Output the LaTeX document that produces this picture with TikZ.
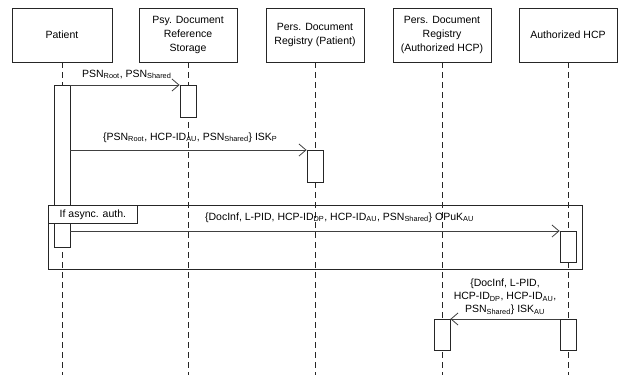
\documentclass[tikz,border=0pt]{standalone}
\usepackage{fontspec}
\setmainfont{Liberation Sans}
\usetikzlibrary{arrows.meta}

\tikzset{every picture/.style={line width=0.8pt}}
\tikzset{
  actor/.style={draw=black!85, fill=white, minimum width=98pt, minimum height=54pt,
    align=center, inner sep=2pt, font=\fontsize{10.5}{14}\selectfont},
  lifeline/.style={draw=black!85, dash pattern=on 6pt off 4pt},
  actbar/.style={draw=black!85, fill=white, minimum width=16pt, anchor=north, inner sep=0pt},
  msg/.style={draw=black!75, -{Straight Barb[length=7pt,width=12pt]}},
  msglabel/.style={inner sep=0.75pt, font=\fontsize{10.5}{13}\selectfont},
}

\begin{document}
\begin{tikzpicture}[x=1pt,y=1pt,yscale=-1,xscale=1]
\useasboundingbox (0,0) rectangle (619,375);

% participants
\node[actor, minimum width=100pt] (pat) at (62,35) {Patient};
\node[actor] (psy) at (188,35) {Psy. Document\\Reference\\Storage};
\node[actor] (pdp) at (315,35) {Pers. Document\\Registry (Patient)};
\node[actor] (pdh) at (442,35) {Pers. Document\\Registry\\(Authorized HCP)};
\node[actor] (hcp) at (568,35) {Authorized HCP};

\coordinate (patend) at (62,375);
\coordinate (psyend) at (188,375);
\coordinate (pdpend) at (315,375);
\coordinate (pdhend) at (442,375);
\coordinate (hcpend) at (568,375);

\draw [lifeline] (pat.south) -- (patend);
\draw [lifeline] (psy.south) -- (psyend);
\draw [lifeline] (pdp.south) -- (pdpend);
\draw [lifeline] (pdh.south) -- (pdhend);
\draw [lifeline] (hcp.south) -- (hcpend);

% async frame
\node[draw=black!85, minimum width=534pt, minimum height=64pt, anchor=north west, inner sep=0pt] (alt) at (48,205) {};

% activations
\node[actbar, minimum height=162pt] (patbar) at (62,85) {};
\node[actbar, minimum height=32pt] (psybar) at (188,85) {};
\node[actbar, minimum height=32pt] (pdpbar) at (315,150) {};
\node[actbar, minimum height=31pt] (hcpbar) at (568,231) {};
\node[actbar, minimum height=31pt] (pdhbar2) at (442,319) {};
\node[actbar, minimum height=31pt] (hcpbar2) at (568,319) {};

\node[draw=black!85, fill=white, anchor=north west, minimum width=89pt, minimum height=18pt,
  inner sep=0pt, font=\fontsize{10.5}{13}\selectfont] (altlabel) at (48,205) {If async. auth.};

% messages
\draw [msg] (patbar.north east) -- (psybar.north west);
\draw [msg] (patbar.east |- pdpbar.north west) -- (pdpbar.north west);
\draw [msg] (patbar.east |- hcpbar.north west) -- (hcpbar.north west);
\draw [msg] (hcpbar2.north west) -- (pdhbar2.north east);

\node[msglabel, anchor=base west] (m1) at (81,77) {PSN\textsubscript{Root}, PSN\textsubscript{Shared}};
\node[msglabel, anchor=base west] (m2) at (102,140) {\{PSN\textsubscript{Root}, HCP-ID\textsubscript{AU}, PSN\textsubscript{Shared}\} ISK\textsubscript{P}};
\node[msglabel, anchor=base west] (m3) at (204,220) {\{DocInf, L-PID, HCP-ID\textsubscript{DP}, HCP-ID\textsubscript{AU}, PSN\textsubscript{Shared}\} OPuK\textsubscript{AU}};
\node[msglabel, anchor=south, align=center] (m4) at (505,316) {\{DocInf, L-PID,\\HCP-ID\textsubscript{DP}, HCP-ID\textsubscript{AU},\\PSN\textsubscript{Shared}\} ISK\textsubscript{AU}};

\end{tikzpicture}
\end{document}
